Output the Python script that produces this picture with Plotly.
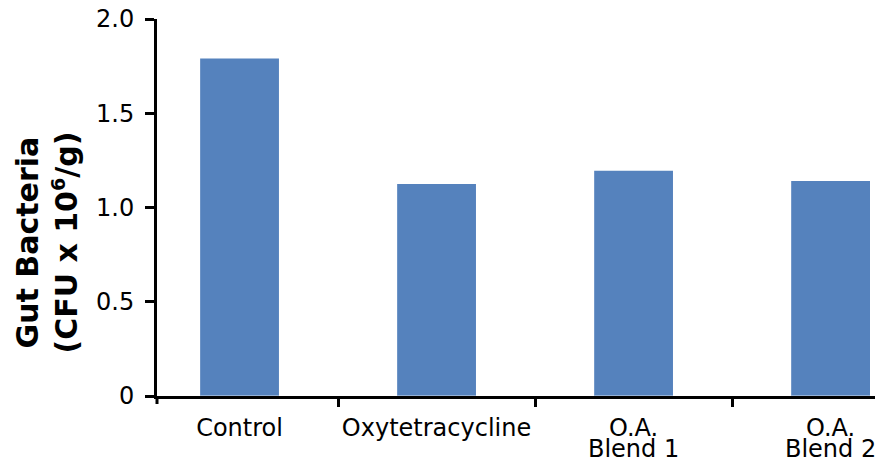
import plotly.graph_objects as go

categories = ["Control", "Oxytetracycline", "O.A. Blend 1", "O.A. Blend 2"]
label_line1 = ["Control", "Oxytetracycline", "O.A.", "O.A."]
label_line2 = ["", "", "Blend 1", "Blend 2"]
values = [1.79, 1.125, 1.195, 1.14]
y_ticks = [0, 0.5, 1.0, 1.5, 2.0]
y_ticktext = ["0", "0.5", "1.0", "1.5", "2.0"]

BAR = "#5582bd"
FONT = "DejaVu Sans"

# the page body adds an 8px margin; the figure is sized to the visible area
W, H = 875, 454

second_vals = [c for c, l in zip(categories, label_line2) if l]
second_text = [l for l in label_line2 if l]

fig = go.Figure()
fig.add_trace(go.Bar(x=categories, y=values, marker=dict(color=BAR, line=dict(width=0)),
                     width=0.4, showlegend=False))
fig.add_trace(go.Bar(x=categories, y=[0] * len(categories), xaxis="x2", yaxis="y",
                     marker=dict(color="rgba(0,0,0,0)"), showlegend=False,
                     hoverinfo="skip", width=0.4))

xr = [-0.419, 3.266]
fig.update_layout(
    width=W, height=H,
    margin=dict(l=149, r=0, t=11, b=66),
    plot_bgcolor="white", paper_bgcolor="white",
    xaxis=dict(type="category", range=xr, showline=True, linecolor="black", linewidth=3,
               ticks="outside", ticklen=8, tickwidth=3, tickcolor="black", tickson="boundaries",
               tickmode="array", tickvals=categories, ticktext=label_line1, tickangle=0,
               automargin=False, ticklabeloverflow="allow",
               tickfont=dict(family=FONT, size=24, color="black"), ticklabelstandoff=8,
               showgrid=False, zeroline=False, fixedrange=True),
    xaxis2=dict(type="category", range=xr, overlaying="x", side="bottom", anchor="y",
                showline=False, ticks="", tickmode="array", tickvals=second_vals,
                ticktext=second_text, tickangle=0, automargin=False,
                ticklabeloverflow="allow",
                tickfont=dict(family=FONT, size=24, color="black"), ticklabelstandoff=36,
                showgrid=False, zeroline=False, matches="x"),
    yaxis=dict(range=[0, 2.0], showline=True, linecolor="black", linewidth=3,
               ticks="outside", ticklen=9, tickwidth=3, tickcolor="black",
               tickmode="array", tickvals=y_ticks, ticktext=y_ticktext,
               automargin=False, ticklabeloverflow="allow",
               tickfont=dict(family=FONT, size=24, color="black"), ticklabelstandoff=6,
               showgrid=False, zeroline=False),
)

fig.add_annotation(
    text="<b>Gut Bacteria<br>(CFU x 10<sup><span style='font-size:19px'>6</span></sup>/g)</b>",
    textangle=-90, xref="paper", yref="paper", x=-0.1515, y=0.407,
    xanchor="center", yanchor="middle", showarrow=False,
    font=dict(family="DejaVu Sans", size=30, color="black"))
# short extension of the y axis below the x axis
fig.add_shape(type="line", xref="paper", yref="paper", x0=0, x1=0, y0=-8, y1=0,
              ysizemode="pixel", yanchor=0, line=dict(color="black", width=3))

fig.write_html("out.html")
